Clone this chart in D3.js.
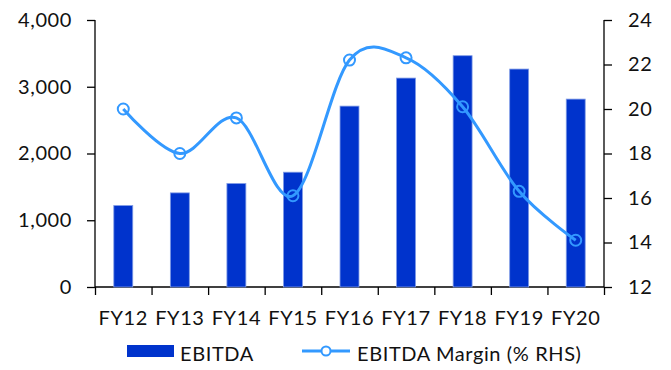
<!DOCTYPE html>
<html>
<head>
<meta charset="utf-8">
<script src="https://cdn.jsdelivr.net/npm/d3@7.9.0/dist/d3.min.js"></script>
<style>
  body { margin: 0; background: #fff; }
  text { font-family: Lato, "Noto Sans", sans-serif; fill: #111; letter-spacing: 0.6px; }
</style>
</head>
<body>
<svg id="chart" width="671" height="370"></svg>
<script>
// chart data
const years = ['FY12', 'FY13', 'FY14', 'FY15', 'FY16', 'FY17', 'FY18', 'FY19', 'FY20'];
const ebitda = [1220, 1410, 1550, 1720, 2710, 3130, 3465, 3265, 2815];
const margin = [20.0, 18.0, 19.6, 16.1, 22.2, 22.3, 20.1, 16.3, 14.1];
const leftTicks = [0, 1000, 2000, 3000, 4000];
const rightTicks = [12, 14, 16, 18, 20, 22, 24];

const barColor = '#0033cc';
const lineColor = '#3399ff';
const fontSize = 20;

const svg = d3.select('#chart');
const pL = 95, pR = 604, pT = 20, pB = 287;

const x = d3.scaleBand()
  .domain(years)
  .range([pL, pR])
  .paddingInner(0.665)
  .paddingOuter(0.3325);
const xEdge = d3.scaleLinear().domain([0, years.length]).range([pL, pR]);
const yL = d3.scaleLinear().domain([0, 4000]).range([pB, pT]);
const yR = d3.scaleLinear().domain([12, 24]).range([pB, pT]);

// axes
const axL = svg.append('g')
  .attr('transform', `translate(${pL},0)`)
  .call(d3.axisLeft(yL).tickValues(leftTicks).tickSize(8).tickPadding(15)
    .tickFormat(d3.format(',')));
const axR = svg.append('g')
  .attr('transform', `translate(${pR},0)`)
  .call(d3.axisRight(yR).tickValues(rightTicks).tickSize(8).tickPadding(16));
const axB = svg.append('g')
  .attr('transform', `translate(0,${pB})`)
  .call(d3.axisBottom(xEdge).tickValues(d3.range(years.length + 1)).tickSize(8)
    .tickFormat(''));
const axLab = svg.append('g')
  .attr('transform', `translate(0,${pB})`)
  .call(d3.axisBottom(x).tickSize(0).tickPadding(24));
axLab.select('.domain').remove();

[axL, axR, axB].forEach(g => {
  g.selectAll('.domain, line').attr('stroke', '#000').attr('stroke-width', 1.3);
  g.select('.domain').attr('d', g === axB
    ? `M${pL},0H${pR}`
    : `M0,${pT}V${pB}`);
});
[axL, axR, axLab].forEach(g => {
  g.selectAll('text').attr('font-size', fontSize).attr('fill', '#111')
    .style('font-family', 'Lato, "Noto Sans", sans-serif');
});

// bars
svg.append('g').selectAll('rect')
  .data(years)
  .join('rect')
  .attr('x', d => x(d))
  .attr('width', x.bandwidth())
  .attr('y', (d, i) => yL(ebitda[i]))
  .attr('height', (d, i) => yL(0) - yL(ebitda[i]))
  .attr('fill', barColor)
  .attr('stroke', '#7f9be6')
  .attr('stroke-width', 0.8);

// margin line
const cx = d => x(d) + x.bandwidth() / 2;
const line = d3.line()
  .x((d, i) => cx(years[i]))
  .y(d => yR(d))
  .curve(d3.curveCatmullRom.alpha(0));

svg.append('path')
  .datum(margin)
  .attr('d', line)
  .attr('fill', 'none')
  .attr('stroke', lineColor)
  .attr('stroke-width', 3);

svg.append('g').selectAll('circle')
  .data(margin)
  .join('circle')
  .attr('cx', (d, i) => cx(years[i]))
  .attr('cy', d => yR(d))
  .attr('r', 5.5)
  .attr('fill', 'none')
  .attr('stroke', lineColor)
  .attr('stroke-width', 2);

// legend
const lg = svg.append('g');
lg.append('rect')
  .attr('x', 127).attr('y', 345).attr('width', 47).attr('height', 12)
  .attr('fill', barColor);
lg.append('text')
  .attr('x', 180).attr('y', 361)
  .attr('font-size', fontSize)
  .text('EBITDA');
lg.append('line')
  .attr('x1', 302).attr('x2', 350).attr('y1', 351).attr('y2', 351)
  .attr('stroke', lineColor).attr('stroke-width', 3);
lg.append('circle')
  .attr('cx', 326).attr('cy', 351).attr('r', 4.5)
  .attr('fill', '#fff').attr('stroke', lineColor).attr('stroke-width', 2);
lg.append('text')
  .attr('x', 357).attr('y', 361)
  .attr('font-size', fontSize)
  .text('EBITDA Margin (% RHS)');
</script>
</body>
</html>
